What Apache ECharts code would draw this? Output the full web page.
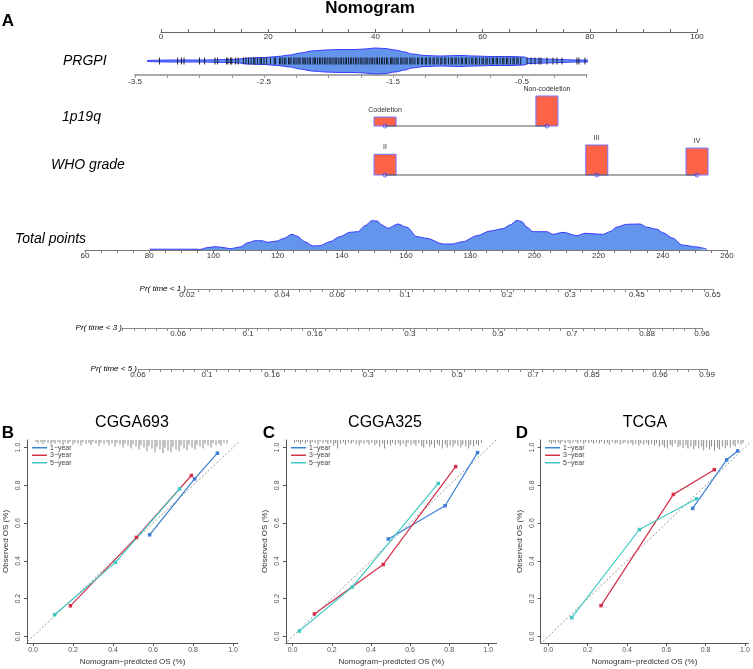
<!DOCTYPE html>
<html><head><meta charset="utf-8">
<script src="https://cdn.jsdelivr.net/npm/echarts@6/dist/echarts.min.js"></script>
<style>html,body{margin:0;padding:0;background:#fff}#c{width:753px;height:669px}</style>
</head><body><div id="c"></div>
<script>
// ================= DATA =================
const pointsMin = 0, pointsMax = 100;
// PRGPI distribution (value, half-width of violin) and rug of observed values
const prgpiX = [-3.407,-3.229,-2.996,-2.764,-2.686,-2.632,-2.492,-2.399,-2.298,-2.221,-2.128,-2.027,-1.911,-1.795,-1.717,-1.640,-1.562,-1.484,-1.407,-1.353,-1.252,-1.136,-0.981,-0.864,-0.748,-0.593,-0.484,-0.453,-0.322,-0.205,-0.089,0.027,0.089];
const prgpiHalf = [0.5,1,1,1.5,2,3,3.5,4.5,6,8,10,11,11.5,11.5,12,13,12.5,11,9,7,5.5,5,5.5,5,4.5,4.5,4,2.5,2,1.5,1,1,0.5];
const prgpiRug = [-3.31,-3.17,-3.14,-3.12,-3.00,-2.96,-2.88,-2.86,-2.79,-2.78,-2.76,-2.75,-2.72,-2.70,-2.66,-2.64,-2.62,-2.60,-2.58,-2.57,-2.55,-2.53,-2.52,-2.50,-2.48,-2.45,-2.42,-2.41,
 -2.38,-2.37,-2.355,-2.34,-2.33,-2.31,-2.30,-2.29,-2.27,-2.26,-2.245,-2.23,-2.22,-2.20,-2.19,-2.18,-2.165,-2.15,-2.14,-2.12,-2.11,-2.10,-2.085,-2.07,-2.06,-2.045,-2.03,-2.02,-2.005,-1.99,-1.98,-1.965,-1.95,-1.94,-1.925,-1.91,-1.90,-1.885,-1.87,-1.86,-1.845,-1.83,-1.82,-1.805,-1.79,-1.78,-1.765,-1.75,-1.74,-1.725,-1.71,-1.70,-1.685,-1.67,-1.66,-1.645,-1.63,-1.62,-1.605,-1.59,-1.58,-1.565,-1.55,-1.54,-1.52,-1.51,-1.50,-1.485,-1.47,-1.46,-1.44,-1.43,-1.415,-1.40,-1.39,-1.37,-1.36,-1.345,-1.33,-1.31,-1.30,-1.28,-1.27,-1.25,-1.24,-1.22,-1.21,-1.19,-1.18,-1.16,-1.15,-1.13,-1.12,-1.10,-1.09,-1.07,-1.05,-1.04,-1.02,-1.01,-0.99,-0.97,-0.96,-0.94,-0.93,-0.91,-0.89,-0.88,-0.86,-0.85,-0.83,-0.81,-0.80,-0.78,-0.77,-0.75,-0.73,-0.72,-0.70,-0.69,-0.67,-0.65,-0.64,-0.62,-0.61,-0.59,-0.57,-0.56,-0.54,-0.53,-0.51,
 -0.461,-0.430,-0.399,-0.368,-0.353,-0.306,-0.260,-0.229,-0.190,-0.074,-0.059,-0.012];
// 1p19q
const codelLabels = ['Codeletion','Non-codeletion'];
const codelPoints = [41.8, 72.0];
const codelFreq = [0.23, 0.77];
// WHO grade
const whoLabels = ['II','III','IV'];
const whoPoints = [41.8, 81.3, 100];
const whoFreq = [0.267, 0.387, 0.347];
// Total points distribution
const totalMin = 60, totalMax = 260;
const totalX = [80.2,86.5,94.9,95.8,98.0,100.5,102.7,105.2,108.3,110.8,113.0,115.1,117.0,119.8,121.7,124.5,126.0,128.5,131.0,133.2,136.3,139.4,142.5,145.0,147.2,149.4,151.0,152.5,154.4,157.5,160.3,163.4,166.5,171.5,174.3,177.7,182.1,186.2,190.2,192.4,194.6,196.1,197.7,199.6,203.9,205.8,208.9,213.3,215.8,221.4,223.5,225.7,228.8,232.9,235.1,238.2,240.0,243.2,246.0,250.6,253.8];
const totalDens = [0.8,0.8,0.8,0.5,2.3,3.3,2.7,1.3,3,7.3,9.3,9.3,7.7,9,11.3,15.7,14,8.3,4,4.3,8.3,13.3,17.7,18.3,24.3,29.3,29,25,21.7,26,22.7,13.3,11.7,6,6,8.3,14.3,19,21.3,25,29.7,28.3,22.7,18.3,18.3,15.7,17.7,14.3,16.7,15.7,18.3,23,25.7,26,22.7,20.7,17.3,11.7,5,3,0.7];
// Probability axes: labels and their total-points positions
const pr1Labels = ['0.02','0.04','0.06','0.1','0.2','0.3','0.45','0.65'];
const pr1Pos = [91.8,121.4,138.5,159.7,191.5,211.1,231.9,255.6];
const pr1Range = [91.8,255.6];
const pr3Labels = ['0.06','0.1','0.16','0.3','0.5','0.7','0.88','0.96'];
const pr3Pos = [89.0,110.8,131.6,161.2,188.6,211.7,235.1,252.2];
const pr3Range = [71.7,252.2];
const pr5Labels = ['0.06','0.1','0.16','0.3','0.5','0.7','0.85','0.96','0.99'];
const pr5Pos = [76.5,98.0,118.3,148.2,175.9,199.6,217.9,239.1,253.8];
const pr5Range = [76.5,253.8];
// Calibration curves [predicted, observed]
const calTicks = [0,0.2,0.4,0.6,0.8,1.0];
const b1 = [[0.583,0.538],[0.808,0.834],[0.922,0.970]];
const b3 = [[0.187,0.162],[0.517,0.524],[0.792,0.852]];
const b5 = [[0.108,0.115],[0.412,0.392],[0.733,0.781]];
const c1 = [[0.489,0.516],[0.779,0.692],[0.945,0.973]];
const c3 = [[0.111,0.119],[0.463,0.381],[0.833,0.899]];
const c5 = [[0.034,0.028],[0.305,0.262],[0.744,0.810]];
const d1 = [[0.734,0.678],[0.907,0.935],[0.963,0.982]];
const d3 = [[0.268,0.163],[0.636,0.752],[0.844,0.883]];
const d5 = [[0.119,0.099],[0.463,0.566],[0.754,0.729]];
// Distribution of predictions (x, spike length)
const bSpikes = [[0.015,.01],[0.025,.018],[0.04,.012],[0.05,.022],[0.06,.01],[0.075,.016],[0.09,.025],[0.1,.012],[0.11,.02],[0.125,.01],[0.135,.018],[0.15,.028],[0.16,.012],[0.175,.02],[0.185,.01],[0.2,.024],[0.21,.014],[0.225,.018],[0.24,.03],[0.25,.012],[0.265,.02],[0.28,.015],[0.29,.026],[0.3,.012],[0.315,.02],[0.33,.032],[0.34,.015],[0.355,.022],[0.37,.012],[0.38,.028],[0.395,.018],[0.41,.035],[0.42,.015],[0.435,.025],[0.45,.04],[0.46,.02],[0.475,.03],[0.49,.045],[0.5,.022],[0.515,.035],[0.53,.05],[0.54,.028],[0.555,.04],[0.57,.06],[0.58,.03],[0.595,.045],[0.61,.065],[0.62,.035],[0.635,.05],[0.65,.07],[0.66,.04],[0.675,.055],[0.69,.065],[0.7,.035],[0.715,.05],[0.73,.06],[0.74,.03],[0.755,.045],[0.77,.055],[0.78,.025],[0.795,.04],[0.81,.05],[0.82,.025],[0.835,.035],[0.85,.045],[0.86,.02],[0.875,.03],[0.89,.04],[0.9,.018],[0.915,.028],[0.93,.02],[0.94,.03],[0.955,.015],[0.97,.02]];
const cSpikes = [[0.01,.015],[0.02,.008],[0.03,.012],[0.04,.02],[0.05,.01],[0.065,.018],[0.075,.01],[0.09,.022],[0.1,.012],[0.115,.016],[0.13,.025],[0.14,.01],[0.155,.018],[0.17,.012],[0.18,.022],[0.195,.015],[0.21,.03],[0.22,.018],[0.23,.045],[0.245,.02],[0.26,.012],[0.27,.025],[0.285,.015],[0.3,.02],[0.31,.01],[0.325,.022],[0.34,.03],[0.35,.015],[0.365,.02],[0.38,.012],[0.39,.025],[0.405,.015],[0.42,.028],[0.43,.018],[0.445,.035],[0.46,.02],[0.47,.045],[0.485,.022],[0.5,.03],[0.51,.015],[0.525,.025],[0.54,.018],[0.55,.03],[0.565,.02],[0.58,.035],[0.59,.015],[0.605,.028],[0.62,.02],[0.63,.03],[0.645,.018],[0.66,.032],[0.67,.04],[0.685,.022],[0.7,.035],[0.71,.025],[0.725,.04],[0.74,.02],[0.75,.03],[0.765,.045],[0.78,.025],[0.79,.04],[0.805,.03],[0.82,.035],[0.83,.02],[0.845,.03],[0.86,.04],[0.87,.025],[0.885,.035],[0.9,.045],[0.91,.025],[0.925,.035],[0.94,.02],[0.95,.03],[0.965,.015]];
const dSpikes = [[0.005,.012],[0.015,.02],[0.025,.01],[0.035,.016],[0.05,.012],[0.06,.022],[0.07,.01],[0.085,.018],[0.1,.012],[0.11,.02],[0.125,.014],[0.14,.01],[0.15,.018],[0.165,.012],[0.18,.022],[0.19,.012],[0.205,.016],[0.22,.01],[0.23,.02],[0.245,.014],[0.26,.018],[0.27,.01],[0.285,.022],[0.3,.015],[0.31,.025],[0.325,.012],[0.34,.02],[0.35,.015],[0.365,.025],[0.38,.018],[0.39,.012],[0.405,.022],[0.42,.015],[0.43,.028],[0.445,.02],[0.46,.03],[0.47,.018],[0.485,.025],[0.5,.015],[0.51,.028],[0.525,.02],[0.54,.03],[0.55,.018],[0.565,.035],[0.58,.025],[0.59,.04],[0.605,.045],[0.62,.025],[0.63,.035],[0.645,.02],[0.66,.038],[0.67,.03],[0.685,.042],[0.7,.028],[0.71,.045],[0.725,.035],[0.74,.05],[0.75,.03],[0.765,.045],[0.78,.035],[0.79,.055],[0.805,.04],[0.82,.05],[0.83,.035],[0.845,.055],[0.86,.04],[0.87,.05],[0.885,.035],[0.9,.045],[0.91,.03],[0.925,.04],[0.94,.028],[0.95,.035],[0.965,.02],[0.98,.025],[0.99,.015]];

// ================= LAYOUT / STYLE =================
const FONT = 'Liberation Sans, Arial, Helvetica, sans-serif';
const C1 = '#3c7fd4', C3 = '#d3304b', C5 = '#3fc9c2';
const ptsLeft = 161, ptsWidth = 536;
const totLeft = 85, totWidth = 642;
const totScale = totWidth / (totalMax - totalMin);
const calY = {min: -0.035, max: 1.04, top: 440, height: 203};
const panels = [
  {left: 27, width: 211, xmin: -0.03, xmax: 1.025, s1: b1, s3: b3, s5: b5, spikes: bSpikes, legLeft: 32},
  {left: 286, width: 210.7, xmin: -0.034, xmax: 1.043, s1: c1, s3: c3, s5: c5, spikes: cSpikes, legLeft: 291},
  {left: 540.7, width: 207.6, xmin: -0.039, xmax: 1.017, s1: d1, s3: d3, s5: d5, spikes: dSpikes, legLeft: 545}
];

const grids = [], xAxes = [], yAxes = [], series = [], legends = [];
function hiddenY(gi, min, max) {
  return {gridIndex: gi, type: 'value', min, max, show: false, splitLine: {show: false}};
}
function hiddenX(gi, min, max) {
  return {gridIndex: gi, type: 'value', min, max, show: false, splitLine: {show: false}};
}

// Grid 0: Points axis
grids.push({left: ptsLeft, width: ptsWidth, top: 31, height: 1});
xAxes.push({gridIndex: 0, type: 'value', min: pointsMin, max: pointsMax, interval: 5,
  axisLine: {onZero: false, lineStyle: {color: '#666', width: 1}},
  axisTick: {inside: true, length: 3, lineStyle: {color: '#666'}},
  axisLabel: {margin: 1, fontSize: 8, fontFamily: FONT, color: '#333', formatter: v => (Math.round(v) % 20 === 0 ? String(Math.round(v)) : '')},
  splitLine: {show: false}});
yAxes.push(hiddenY(0, 0, 1));

// Grid 1: PRGPI
grids.push({left: 135, width: 451.5, top: 47, height: 28});
xAxes.push({gridIndex: 1, type: 'value', min: -3.5, max: 0, interval: 0.25,
  axisLine: {onZero: false, lineStyle: {color: '#aaa', width: 2}},
  axisTick: {length: 3, lineStyle: {color: '#999'}},
  axisLabel: {margin: 3, fontSize: 8, fontFamily: FONT, color: '#333', formatter: v => (Math.round(v * 4) % 4 === -2 ? v.toFixed(1) : '')},
  splitLine: {show: false}});
yAxes.push(hiddenY(1, -14, 14));
series.push({type: 'line', xAxisIndex: 1, yAxisIndex: 1, data: prgpiX.map((v, i) => [v, prgpiHalf[i]]), smooth: 0.3, smoothMonotone: 'x', symbol: 'none', clip: false,
  lineStyle: {color: '#3a3aff', width: 1}, areaStyle: {color: '#6495ED', opacity: 1}, z: 2, silent: true});
series.push({type: 'line', xAxisIndex: 1, yAxisIndex: 1, data: prgpiX.map((v, i) => [v, -prgpiHalf[i]]), smooth: 0.3, smoothMonotone: 'x', symbol: 'none', clip: false,
  lineStyle: {color: '#3a3aff', width: 1}, areaStyle: {color: '#6495ED', opacity: 1}, z: 2, silent: true});
series.push({type: 'scatter', xAxisIndex: 1, yAxisIndex: 1, data: prgpiRug.map(v => [v, 0]), symbol: 'rect', symbolSize: [1, 7], clip: false,
  itemStyle: {color: '#000'}, z: 3, silent: true});

// Categorical rows
function catRow(gi, top, points, freq, labels) {
  grids.push({left: ptsLeft, width: ptsWidth, top: top, height: 30});
  xAxes.push(hiddenX(gi, pointsMin, pointsMax));
  yAxes.push(hiddenY(gi, 0, Math.max(...freq)));
  series.push({type: 'custom', xAxisIndex: gi, yAxisIndex: gi, data: points.map((p, i) => [p, freq[i]]), clip: false, z: 2, silent: true,
    renderItem: (params, api) => {
      const base = api.coord([api.value(0), 0]);
      const top = api.coord([api.value(0), api.value(1)]);
      return {type: 'group', children: [
        {type: 'rect', shape: {x: base[0] - 11, y: top[1], width: 22, height: base[1] - top[1]},
          style: {fill: '#ff6347', stroke: '#7272ff', lineWidth: 1}},
        {type: 'text', style: {text: labels[params.dataIndex], x: base[0], y: top[1] - 3.5, align: 'center', verticalAlign: 'bottom',
          font: '7px ' + FONT, fill: '#333'}}
      ]};
    }});
  series.push({type: 'line', xAxisIndex: gi, yAxisIndex: gi, data: points.map(p => [p, 0]), symbol: 'none', clip: false,
    lineStyle: {color: '#555', width: 1}, z: 3, silent: true});
  series.push({type: 'scatter', xAxisIndex: gi, yAxisIndex: gi, data: points.map(p => [p, 0]), symbol: 'circle', symbolSize: 4, clip: false,
    itemStyle: {color: 'rgba(0,0,0,0)', borderColor: '#4848ff', borderWidth: 1}, z: 4, silent: true});
}
catRow(2, 96, codelPoints, codelFreq, codelLabels);
catRow(3, 145, whoPoints, whoFreq, whoLabels);

// Grid 4: Total points
grids.push({left: totLeft, width: totWidth, top: 215, height: 35});
xAxes.push({gridIndex: 4, type: 'value', min: totalMin, max: totalMax, interval: 5,
  axisLine: {onZero: false, lineStyle: {color: '#777', width: 1}},
  axisTick: {length: 3, lineStyle: {color: '#777'}},
  axisLabel: {margin: 2, fontSize: 8, fontFamily: FONT, color: '#333', formatter: v => (Math.round(v) % 20 === 0 ? String(Math.round(v)) : '')},
  splitLine: {show: false}});
yAxes.push(hiddenY(4, 0, 35));
series.push({type: 'line', xAxisIndex: 4, yAxisIndex: 4, data: totalX.map((v, i) => [v, totalDens[i]]), smooth: 0.3, smoothMonotone: 'x', symbol: 'none',
  lineStyle: {color: '#3a3aff', width: 1}, areaStyle: {color: '#6495ED', opacity: 1}, z: 2, silent: true});

// Probability rows
function prRow(gi, axisY, range, pos, labels) {
  const left = totLeft + (range[0] - totalMin) * totScale;
  const width = (range[1] - range[0]) * totScale;
  grids.push({left: left, width: width, top: axisY - 1, height: 1});
  const ticks = pos.slice();
  for (let t = range[0]; t <= range[1] + 0.01; t += 3.5) ticks.push(+t.toFixed(3));
  ticks.push(range[1]);
  const map = new Map(pos.map((p, i) => [p, labels[i]]));
  xAxes.push({gridIndex: gi, type: 'value', min: range[0], max: range[1],
    axisLine: {onZero: false, lineStyle: {color: '#888', width: 1}},
    axisTick: {customValues: ticks, length: 3, lineStyle: {color: '#888'}},
    axisLabel: {customValues: pos, margin: 2, fontSize: 8, fontFamily: FONT, color: '#333',
      formatter: v => { if (map.has(v)) return map.get(v); let best = '', bd = 1e9; pos.forEach((p, i) => { const d = Math.abs(p - v); if (d < bd) { bd = d; best = labels[i]; } }); return bd < 0.05 ? best : ''; }},
    splitLine: {show: false}});
  yAxes.push(hiddenY(gi, 0, 1));
}
prRow(5, 289, pr1Range, pr1Pos, pr1Labels);
prRow(6, 328, pr3Range, pr3Pos, pr3Labels);
prRow(7, 369, pr5Range, pr5Pos, pr5Labels);

// Calibration panels
const names = ['1\u2212year', '3\u2212year', '5\u2212year'];
panels.forEach((p, k) => {
  const gi = 8 + k;
  grids.push({left: p.left, width: p.width, top: calY.top, height: calY.height});
  xAxes.push({gridIndex: gi, type: 'value', min: p.xmin, max: p.xmax,
    axisLine: {onZero: false, lineStyle: {color: '#555', width: 1}},
    axisTick: {customValues: calTicks, length: 3, lineStyle: {color: '#555'}},
    axisLabel: {customValues: calTicks, margin: 4, fontSize: 7, fontFamily: FONT, color: '#555', formatter: v => v.toFixed(1)},
    name: 'Nomogram\u2212predicted OS (%)', nameLocation: 'middle', nameGap: 15,
    nameTextStyle: {fontSize: 8, fontFamily: FONT, color: '#333'},
    splitLine: {show: false}});
  yAxes.push({gridIndex: gi, type: 'value', min: calY.min, max: calY.max,
    axisLine: {onZero: false, lineStyle: {color: '#555', width: 1}},
    axisTick: {customValues: calTicks, length: 3, lineStyle: {color: '#555'}},
    axisLabel: {customValues: calTicks, margin: 5, rotate: 90, fontSize: 7, fontFamily: FONT, color: '#555', formatter: v => v.toFixed(1)},
    name: 'Observed OS (%)', nameLocation: 'middle', nameGap: 17,
    nameTextStyle: {fontSize: 8, fontFamily: FONT, color: '#333'},
    splitLine: {show: false}});
  series.push({type: 'line', xAxisIndex: gi, yAxisIndex: gi, data: [[-0.1, -0.1], [1.1, 1.1]], symbol: 'none',
    lineStyle: {color: '#999', width: 1, type: [2, 2]}, z: 1, silent: true});
  series.push({type: 'custom', xAxisIndex: gi, yAxisIndex: gi, data: p.spikes, z: 1, silent: true,
    renderItem: (params, api) => {
      const a = api.coord([api.value(0), calY.max]);
      const b = api.coord([api.value(0), calY.max - api.value(1)]);
      return {type: 'line', shape: {x1: a[0], y1: a[1], x2: b[0], y2: b[1]}, style: {stroke: '#8a8a8a', lineWidth: 1}};
    }});
  [[p.s1, C1, 0], [p.s3, C3, 1], [p.s5, C5, 2]].forEach(([d, col, j]) => {
    series.push({type: 'line', name: names[j], xAxisIndex: gi, yAxisIndex: gi, data: d, symbol: 'rect', symbolSize: 3.5,
      lineStyle: {color: col, width: 1.2}, itemStyle: {color: col}, z: 3, silent: true});
  });
  legends.push({left: p.legLeft, top: 444, orient: 'vertical', padding: 0, itemGap: 0, itemWidth: 15, itemHeight: 1.5, icon: 'rect',
    selectedMode: false, data: names, textStyle: {fontSize: 7, fontFamily: FONT, color: '#444', lineHeight: 7.5, padding: [0, 0, 0, -2]}});
});

// Texts
const texts = [
  {t: 'Nomogram', x: 370, y: 8, f: 'bold 17px ' + FONT, a: 'center'},
  {t: 'A', x: 8, y: 21, f: 'bold 17px ' + FONT, a: 'center'},
  {t: 'PRGPI', x: 63, y: 61, f: 'italic 14px ' + FONT, a: 'left'},
  {t: '1p19q', x: 62, y: 117, f: 'italic 14px ' + FONT, a: 'left'},
  {t: 'WHO grade', x: 51, y: 165, f: 'italic 14px ' + FONT, a: 'left'},
  {t: 'Total points', x: 15, y: 239, f: 'italic 14px ' + FONT, a: 'left'},
  {t: 'Pr( time < 1 )', x: 186, y: 289, f: 'italic 8px ' + FONT, a: 'right'},
  {t: 'Pr( time < 3 )', x: 122, y: 328, f: 'italic 8px ' + FONT, a: 'right'},
  {t: 'Pr( time < 5 )', x: 137, y: 369, f: 'italic 8px ' + FONT, a: 'right'},
  {t: 'B', x: 8, y: 433, f: 'bold 17px ' + FONT, a: 'center'},
  {t: 'C', x: 269, y: 433, f: 'bold 17px ' + FONT, a: 'center'},
  {t: 'D', x: 522, y: 433, f: 'bold 17px ' + FONT, a: 'center'},
  {t: 'CGGA693', x: 132, y: 423, f: '16px ' + FONT, a: 'center'},
  {t: 'CGGA325', x: 385, y: 423, f: '16px ' + FONT, a: 'center'},
  {t: 'TCGA', x: 645, y: 423, f: '16px ' + FONT, a: 'center'}
];
const graphic = texts.map(o => ({type: 'text', x: o.x, y: o.y, z: 10, silent: true,
  style: {text: o.t, font: o.f, fill: '#000', align: o.a, verticalAlign: 'middle'}}));

const chart = echarts.init(document.getElementById('c'), null, {renderer: 'canvas'});
chart.setOption({
  animation: false,
  backgroundColor: '#fff',
  grid: grids, xAxis: xAxes, yAxis: yAxes, series: series, legend: legends, graphic: graphic
});
</script></body></html>
